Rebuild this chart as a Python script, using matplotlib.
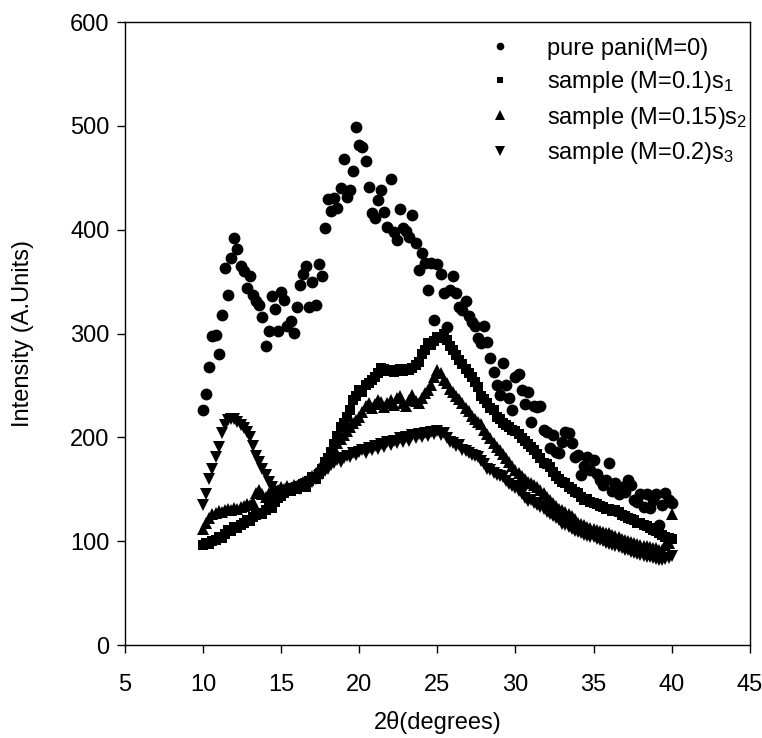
import numpy as np
import matplotlib
matplotlib.use("Agg")
import matplotlib.pyplot as plt

plt.rcParams['font.family'] = ['Liberation Sans', 'DejaVu Sans']
plt.rcParams['mathtext.fontset'] = 'custom'
plt.rcParams['mathtext.rm'] = 'Liberation Sans'
plt.rcParams['mathtext.it'] = 'Liberation Sans'

# 2theta grid, 10..40 deg in 0.2 deg steps (151 points)
two_theta = np.linspace(10, 40, 151)

# pure pani (M=0)
pani = [
    226, 242, 268, 298, 299,  280, 318, 363, 337, 373,
    392, 381, 365, 360, 344,  355, 337, 331, 328, 316,
    288, 302, 336, 324, 302,  340, 332, 307, 312, 301,
    326, 347, 357, 365, 326,  350, 328, 367, 355, 402,
    430, 418, 431, 421, 440,  468, 432, 438, 457, 499,
    482, 480, 466, 441, 416,  411, 429, 438, 417, 403,
    449, 398, 390, 420, 402,  399, 393, 414, 387, 361,
    378, 368, 342, 368, 313,  367, 357, 339, 306, 342,
    355, 339, 326, 323, 331,  317, 311, 307, 296, 291,
    307, 292, 276, 263, 250,  241, 272, 250, 238, 226,
    258, 261, 246, 232, 244,  215, 230, 229, 230, 207,
    205, 190, 202, 186, 185,  196, 205, 204, 195, 181,
    183, 164, 172, 181, 169,  178, 165, 159, 154, 159,
    175, 148, 156, 145, 152,  147, 159, 154, 140, 138,
    145, 133, 145, 132, 140,  145, 116, 135, 146, 140,
    137,
]

# sample (M=0.1) s1
s1 = [
    96, 98, 97, 100, 101,  104, 103, 107, 111, 110,
    114, 113, 116, 118, 120,  119, 123, 125, 127, 126,
    130, 133, 132, 138, 142,  144, 146, 149, 148, 151,
    150, 153, 155, 152, 158,  162, 160, 165, 170, 176,
    180, 186, 194, 201, 210,  214, 220, 226, 236, 240,
    246, 244, 250, 252, 255,  258, 262, 267, 266, 264,
    265, 263, 265, 266, 264,  266, 265, 267, 270, 273,
    280, 284, 291, 289, 293,  297, 296, 300, 294, 288,
    284, 279, 275, 271, 266,  262, 258, 253, 249, 240,
    237, 233, 228, 226, 220,  218, 214, 212, 210, 207,
    206, 203, 199, 197, 194,  191, 188, 184, 180, 175,
    174, 171, 167, 163, 160,  157, 156, 152, 150, 147,
    146, 143, 140, 141, 138,  137, 136, 134, 133, 131,
    131, 129, 130, 128, 125,  124, 122, 121, 120, 118,
    118, 116, 115, 113, 111,  110, 108, 106, 104, 103,
    102,
]

# sample (M=0.15) s2
s2 = [
    112, 118, 122, 126, 127,  129, 128, 130, 131, 130,
    132, 131, 133, 134, 136,  135, 138, 146, 149, 145,
    143, 146, 148, 150, 149,  152, 150, 153, 151, 154,
    153, 155, 157, 158, 161,  163, 166, 170, 174, 178,
    182, 186, 190, 195, 198,  202, 206, 210, 214, 217,
    220, 224, 230, 233, 228,  232, 236, 234, 229, 233,
    236, 231, 238, 240, 233,  230, 236, 241, 235, 233,
    238, 243, 246, 250, 258,  265, 262, 255, 252, 247,
    244, 240, 237, 233, 228,  225, 221, 218, 215, 213,
    207, 203, 199, 195, 191,  188, 184, 180, 176, 172,
    169, 166, 163, 160, 157,  156, 154, 152, 149, 146,
    143, 140, 137, 134, 131,  130, 128, 126, 124, 121,
    118, 117, 116, 114, 113,  112, 111, 110, 109, 108,
    108, 106, 105, 104, 102,  101, 100, 99, 98, 97,
    96, 95, 95, 94, 93,  93, 92, 92, 96, 98,
    126,
]

# sample (M=0.2) s3
s3 = [
    135, 145, 160, 170, 181,  191, 204, 212, 217, 218,
    218, 215, 212, 209, 205,  200, 192, 182, 176, 170,
    164, 157, 152, 147, 145,  146, 148, 147, 150, 149,
    151, 150, 153, 155, 154,  157, 160, 163, 165, 168,
    170, 173, 175, 178, 176,  180, 182, 181, 185, 183,
    186, 188, 185, 190, 188,  192, 189, 194, 191, 196,
    193, 197, 195, 199, 196,  200, 197, 202, 199, 203,
    200, 204, 201, 205, 203,  206, 202, 204, 199, 196,
    195, 192, 193, 188, 187,  185, 183, 182, 181, 177,
    174, 170, 169, 166, 164,  163, 162, 158, 155, 153,
    151, 148, 145, 142, 139,  140, 137, 135, 133, 131,
    128, 126, 124, 122, 120,  117, 116, 114, 112, 110,
    109, 108, 106, 105, 104,  104, 102, 101, 100, 98,
    97, 96, 95, 94, 93,  92, 92, 90, 89, 88,
    87, 86, 85, 85, 84,  83, 82, 82, 83, 84,
    86,
]

labels = ["pure pani(M=0)", "sample (M=0.1)s$_1$",
          "sample (M=0.15)s$_2$", "sample (M=0.2)s$_3$"]
markers = ["o", "s", "^", "v"]
sizes = [8.5, 7, 8, 8]
legend_sizes = [5.5, 5, 6.5, 6.5]

fig = plt.figure(figsize=(7.62, 7.38), dpi=100)
ax = fig.add_axes([0.164, 0.126, 0.820, 0.844])

for y, lab, m, ms in zip([pani, s1, s2, s3], labels, markers, sizes):
    ax.plot(two_theta, y, linestyle="none", marker=m, markersize=ms,
            color="black", markeredgewidth=0, label=lab)

ax.set_xlim(5, 45)
ax.set_ylim(0, 600)
ax.set_xticks(range(5, 46, 5))
ax.set_yticks(range(0, 601, 100))
ax.tick_params(direction="out", length=6, width=1, labelsize=17,
               top=False, right=False)
ax.tick_params(axis="x", pad=15)
ax.tick_params(axis="y", pad=5)
for sp in ax.spines.values():
    sp.set_linewidth(1)

ax.set_xlabel("2θ(degrees)", fontsize=17, labelpad=11)
ax.set_ylabel("Intensity (A.Units)", fontsize=17, labelpad=26)

leg = ax.legend(loc="upper left", bbox_to_anchor=(0.562, 0.975), frameon=False,
                fontsize=17, handletextpad=1.0,
                labelspacing=0.4, borderpad=0, borderaxespad=0)
for h, ms in zip(leg.legend_handles, legend_sizes):
    h.set_markersize(ms)

fig.savefig("out.png", dpi=100)
